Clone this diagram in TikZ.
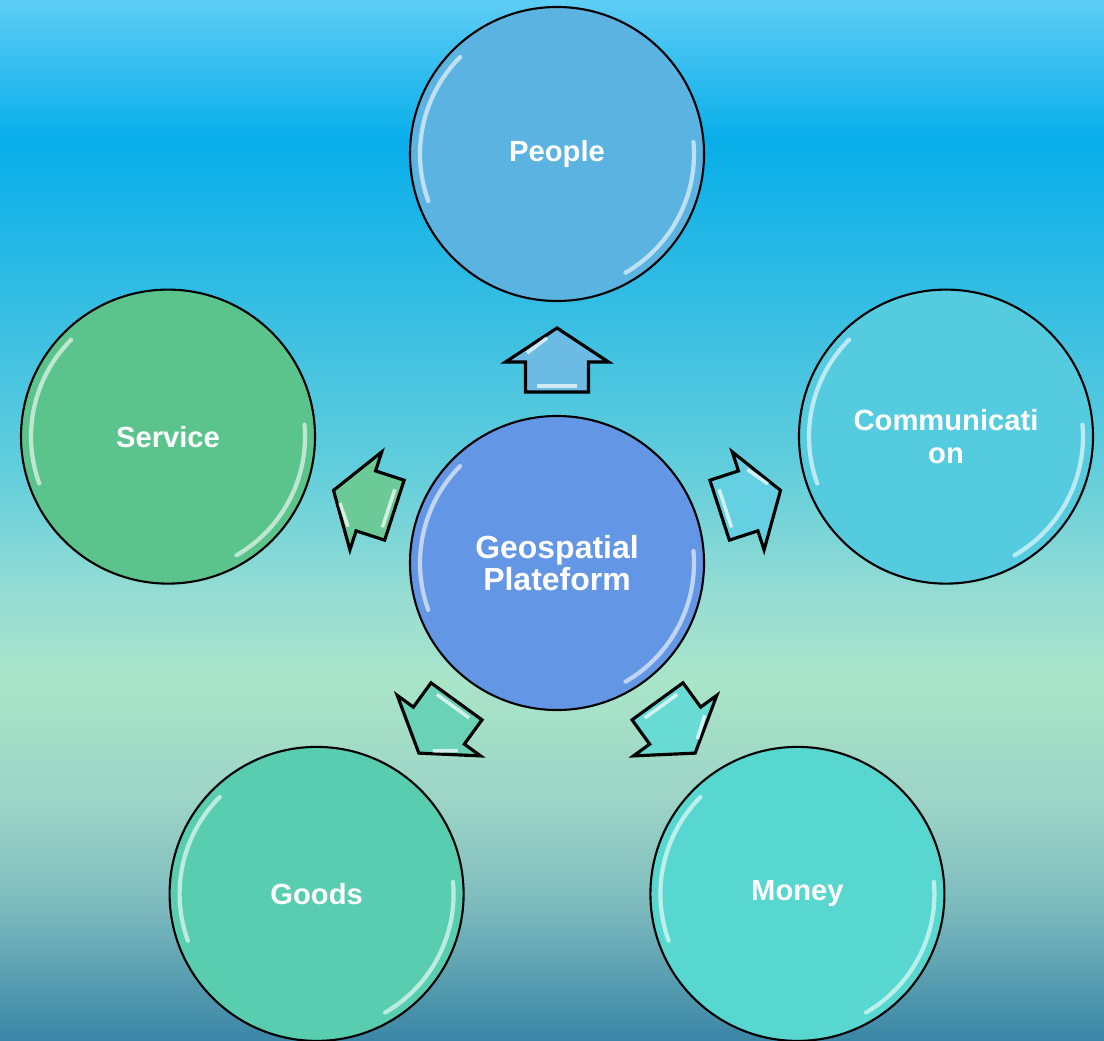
\documentclass[tikz,border=0pt]{standalone}
\usepackage{fontspec}
\setmainfont{Liberation Sans}
\usetikzlibrary{calc}

\definecolor{skyA}{HTML}{5ECDF5}
\definecolor{skyB}{HTML}{08AEEA}
\definecolor{skyC}{HTML}{3CC0E2}
\definecolor{skyD}{HTML}{62CEDC}
\definecolor{skyE}{HTML}{98DDD3}
\definecolor{skyF}{HTML}{A9E5C9}
\definecolor{skyG}{HTML}{9CD4C6}
\definecolor{skyH}{HTML}{7FBCBE}
\definecolor{skyI}{HTML}{3A86A6}

\definecolor{platblue}{HTML}{6396E4}
\definecolor{peopleblue}{HTML}{5BB3E1}
\definecolor{servicegreen}{HTML}{5AC48C}
\definecolor{commcyan}{HTML}{55CBE0}
\definecolor{goodsgreen}{HTML}{58CDAF}
\definecolor{moneycyan}{HTML}{57D7D0}

\begin{document}
\begin{tikzpicture}[
    bubble/.style={circle, draw=black, line width=0.6pt, minimum size=2.94cm,
        inner sep=0pt, align=center, text=white,
        font=\bfseries\fontsize{8.3}{9.4}\selectfont},
    blockarrow/.style={draw=black, line width=0.9pt, line join=miter},
    gloss/.style={white, opacity=0.6, line width=1.2pt, line cap=round}
]
    \useasboundingbox (0,0) rectangle (11.04,-10.40);
    \begin{scope}
    \clip (0,0) rectangle (11.04,-10.40);
    % Background
    \shade[top color=skyA, bottom color=skyB] (0,0.01) rectangle (11.04,-1.41);
    \shade[top color=skyB, bottom color=skyC] (0,-1.40) rectangle (11.04,-3.31);
    \shade[top color=skyC, bottom color=skyD] (0,-3.30) rectangle (11.04,-4.71);
    \shade[top color=skyD, bottom color=skyE] (0,-4.70) rectangle (11.04,-6.01);
    \shade[top color=skyE, bottom color=skyF] (0,-6.00) rectangle (11.04,-6.81);
    \shade[top color=skyF, bottom color=skyG] (0,-6.80) rectangle (11.04,-8.01);
    \shade[top color=skyG, bottom color=skyH] (0,-8.00) rectangle (11.04,-9.01);
    \shade[top color=skyH, bottom color=skyI] (0,-9.00) rectangle (11.04,-10.41);
    % Bubbles
    \node[bubble, fill=platblue, font=\bfseries\fontsize{9.1}{9.3}\selectfont] (plat) at (5.57,-5.63) {Geospatial\\Plateform};
    \node[bubble, fill=peopleblue] (people) at ($(plat)+(90:4.09)$) {People};
    \node[bubble, fill=commcyan] (comm) at ($(plat)+(18:4.09)$) {Communicati\\on};
    \node[bubble, fill=moneycyan] (money) at ($(plat)+(-54:4.09)$) {Money};
    \node[bubble, fill=goodsgreen] (goods) at ($(plat)+(-126:4.09)$) {Goods};
    \node[bubble, fill=servicegreen] (service) at ($(plat)+(162:4.09)$) {Service};
    % Gloss
    \foreach \n in {plat,people,comm,money,goods,service}{
        \draw[gloss] ($(\n)+(135:1.37)$) arc (135:200:1.37);
        \draw[gloss] ($(\n)+(-60:1.37)$) arc (-60:5:1.37);
    }
    % Arrows
    \foreach \a/\c in {90/peopleblue, 18/commcyan, -54/moneycyan, -126/goodsgreen, 162/servicegreen}{
        \begin{scope}[shift={(plat.center)}, rotate=\a]
            \draw[blockarrow, fill=\c!90!white] (1.71,-0.315) -- (2.01,-0.315) -- (2.01,-0.515)
                -- (2.35,0) -- (2.01,0.515) -- (2.01,0.315) -- (1.71,0.315) -- cycle;
            \draw[white, opacity=0.7, line width=1pt] (1.77,-0.2) -- (1.77,0.2);
            \draw[white, opacity=0.7, line width=1pt] (2.1,0.3) -- (2.25,0.1);
        \end{scope}
    }
    \end{scope}
\end{tikzpicture}
\end{document}
